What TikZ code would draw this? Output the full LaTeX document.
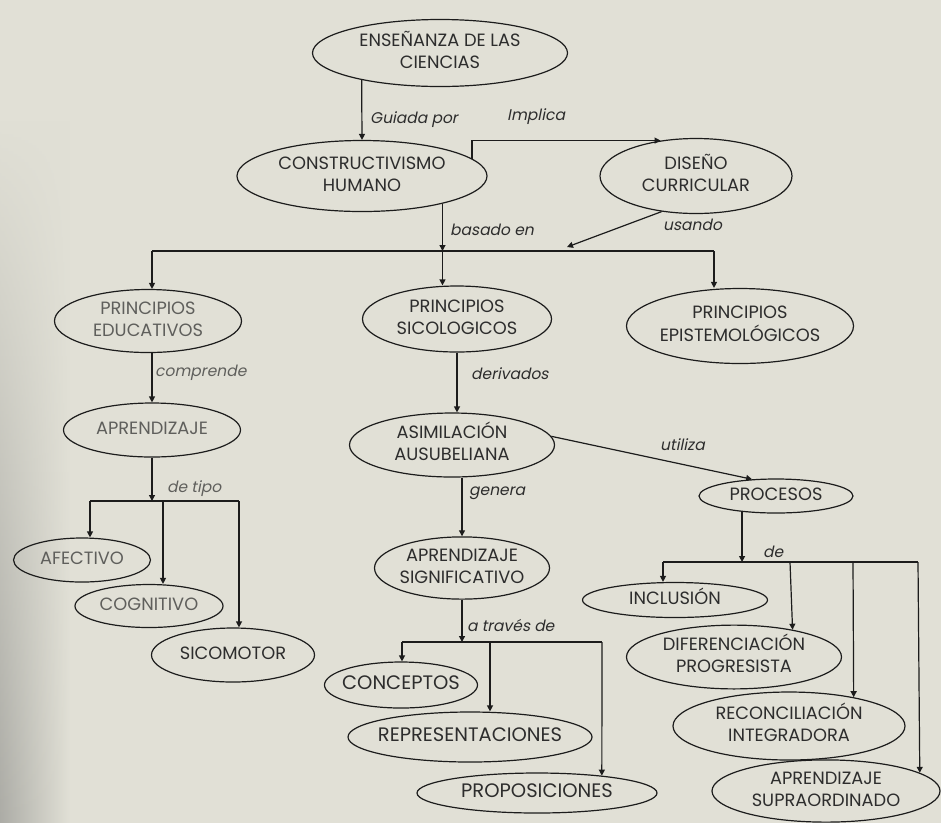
\documentclass[tikz,border=0pt]{standalone}
\usepackage{fontspec}
\setmainfont{Poppins}
\newfontfamily\lblfont{Poppins}[FakeSlant=0.2]
\usetikzlibrary{arrows.meta,shapes.geometric,fadings}
\definecolor{bgc}{RGB}{225,224,214}
\definecolor{bgd}{RGB}{172,172,166}
\definecolor{ink}{RGB}{28,28,28}
\definecolor{txt}{RGB}{45,45,45}
\definecolor{fad}{RGB}{95,95,92}
\newcommand{\ntxt}[1]{\makebox[0pt]{\begin{tabular}{@{}c@{}}#1\end{tabular}}}
\tikzset{
  ell/.style={ellipse, draw=ink, line width=1.2pt, inner sep=0pt, text=txt,
    font=\fontsize{17.8}{22}\selectfont},
  ellf/.style={ell, text=fad},
  ellb/.style={ell, font=\fontsize{19.5}{23}\selectfont},
  arr/.style={draw=ink, line width=1.2pt, -{Triangle[length=6pt,width=6pt]}},
  ln/.style={draw=ink, line width=1.2pt},
  lbl/.style={font=\lblfont\fontsize{15.5}{18}\selectfont, anchor=west, inner sep=0pt, text=txt},
  lblf/.style={lbl, text=fad}
}
\begin{document}
\begin{tikzpicture}[x=1pt,y=-1pt]
\useasboundingbox (0,0) rectangle (941,823);
\fill[bgc] (0,0) rectangle (941,823);
\shade[left color=bgd, right color=bgc, path fading=north] (0,120) rectangle (70,823);

% nodes
\node[ell, minimum width=255, minimum height=67] (ens) at (440,53) {\ntxt{ENSEÑANZA DE LAS\\CIENCIAS}};
\node[ell, minimum width=250, minimum height=71] (con) at (362,176) {\ntxt{CONSTRUCTIVISMO\\HUMANO}};
\node[ell, minimum width=192, minimum height=75] (dis) at (696,176) {\ntxt{DISEÑO\\CURRICULAR}};
\node[ellf, minimum width=187, minimum height=63] (edu) at (148,321) {\ntxt{PRINCIPIOS\\EDUCATIVOS}};
\node[ell, minimum width=189, minimum height=66] (sic) at (457,319) {\ntxt{PRINCIPIOS\\SICOLOGICOS}};
\node[ell, minimum width=227, minimum height=75] (epi) at (740,326) {\ntxt{PRINCIPIOS\\EPISTEMOLÓGICOS}};
\node[ellf, minimum width=177, minimum height=54] (apr) at (152,430) {\ntxt{APRENDIZAJE}};
\node[ellf, minimum width=137, minimum height=44] (afe) at (82,560) {\ntxt{AFECTIVO}};
\node[ellf, minimum width=148, minimum height=43] (cog) at (149,606) {\ntxt{COGNITIVO}};
\node[ell, minimum width=163, minimum height=54] (scm) at (233,655) {\ntxt{SICOMOTOR}};
\node[ell, minimum width=205, minimum height=64] (asi) at (452,445) {\ntxt{ASIMILACIÓN\\AUSUBELIANA}};
\node[ell, minimum width=154, minimum height=34] (pro) at (776,496) {\ntxt{PROCESOS}};
\node[ell, minimum width=175, minimum height=60] (asg) at (462,568) {\ntxt{APRENDIZAJE\\SIGNIFICATIVO}};
\node[ellb, minimum width=153, minimum height=46] (cnc) at (401,685) {\ntxt{CONCEPTOS}};
\node[ellb, minimum width=244, minimum height=50] (rep) at (470,737) {\ntxt{REPRESENTACIONES}};
\node[ellb, minimum width=240, minimum height=40] (prp) at (537,793) {\ntxt{PROPOSICIONES}};
\node[ell, minimum width=185, minimum height=35] (inc) at (675,600) {\ntxt{INCLUSIÓN}};
\node[ell, minimum width=215, minimum height=61] (dif) at (734,657) {\ntxt{DIFERENCIACIÓN\\PROGRESISTA}};
\node[ell, minimum width=232, minimum height=68] (rec) at (789,726) {\ntxt{RECONCILIACIÓN\\INTEGRADORA}};
\node[ell, minimum width=228, minimum height=58] (aps) at (826,791) {\ntxt{APRENDIZAJE\\SUPRAORDINADO}};

% junction coordinates
\coordinate (barL) at (152,251);
\coordinate (barR) at (714,251);
\coordinate (usend) at (567,247);
\coordinate (b2L) at (90,501);
\coordinate (b2M) at (163,501);
\coordinate (b2R) at (239,501);
\coordinate (b3L) at (663,562);
\coordinate (b3a) at (790,562);
\coordinate (b3b) at (853,562);
\coordinate (b3R) at (918,562);
\coordinate (b4L) at (402,642);
\coordinate (b4M) at (490,642);
\coordinate (b4R) at (602,642);

% connectors
\draw[arr] (ens.199) -- (con.north);
\draw[arr] (con.9) |- (dis.135);
\draw[arr] (con.341) -- (con.341 |- barL);
\draw[ln] (barL) -- (barR);
\draw[arr] (barL) -- (barL |- edu.north);
\draw[arr] (con.341 |- barL) -- (con.341 |- sic.north);
\draw[arr] (barR) -- (barR |- epi.north);
\draw[arr] (dis.226) -- (usend);

\draw[arr] (apr.north |- edu.south) -- (apr.north);
\draw[arr] (apr.south) -- (apr.south |- b2L);
\draw[ln] (b2L) -- (b2R);
\draw[arr] (b2L) -- (b2L |- afe.north);
\draw[arr] (b2M) -- (b2M |- cog.north);
\draw[arr] (b2R) -- (b2R |- scm.north);

\draw[arr] (sic.south) -- (sic.south |- asi.north);
\draw[arr] (asg.north |- asi.south) -- (asg.north);
\draw[arr] (asi.5) -- (pro.145);

\draw[arr] (pro.205) -- (pro.205 |- b3L);
\draw[ln] (b3L) -- (b3R);
\draw[arr] (b3L) -- (b3L |- inc.north);
\draw[arr] (b3a) -- (dif.25);
\draw[arr] (b3b) -- (rec.24);
\draw[arr] (b3R) -- (aps.11);

\draw[arr] (asg.south) -- (asg.south |- b4L);
\draw[ln] (b4L) -- (b4R);
\draw[arr] (b4L) -- (b4L |- cnc.north);
\draw[arr] (b4M) -- (b4M |- rep.north);
\draw[arr] (b4R) -- (prp.15);

% labels
\node[lbl] (l1) at (370,120) {Guiada por};
\node[lbl] (l2) at (507,117) {Implica};
\node[lbl] (l3) at (450,230) {basado en};
\node[lbl] (l4) at (663,225) {usando};
\node[lblf] (l5) at (155,373) {comprende};
\node[lblf] (l6) at (167,489) {de tipo};
\node[lbl] (l7) at (471,374) {derivados};
\node[lbl] (l8) at (469,493) {genera};
\node[lbl] (l9) at (660,445) {utiliza};
\node[lbl] (l10) at (467,625) {a través de};
\node[lbl] (l11) at (763,552) {de};
\end{tikzpicture}
\end{document}
